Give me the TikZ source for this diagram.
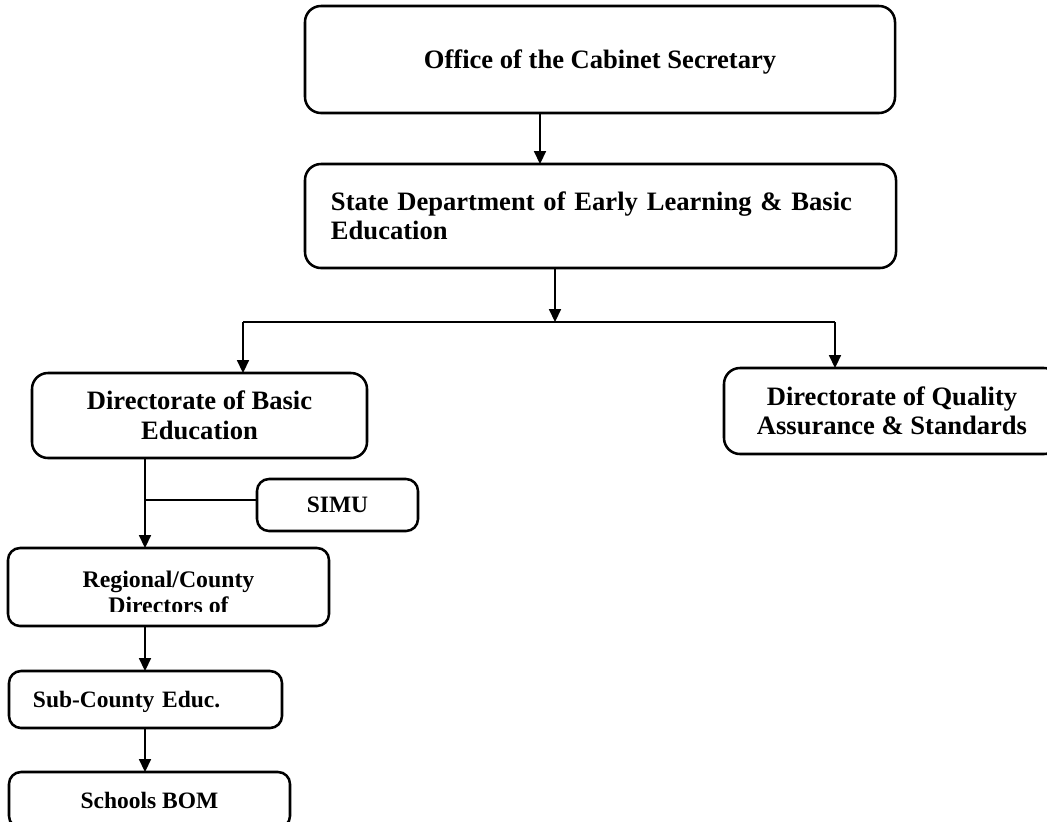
\documentclass[tikz,border=0pt]{standalone}
\usepackage{fontspec}
\setmainfont{Liberation Serif}
\usetikzlibrary{arrows.meta}

\begin{document}
\begin{tikzpicture}[x=0.25mm,y=-0.25mm,inner sep=0pt,outer sep=0pt,line width=0.9pt,
>={Triangle[length=3.2mm,width=3mm]},
orgbox/.style={draw,rectangle,rounded corners=4mm,line width=1.8pt,align=center,font=\bfseries\fontsize{18.9}{21}\selectfont},
lowbox/.style={orgbox,rounded corners=3mm,font=\bfseries\fontsize{16.7}{19}\selectfont},
oneline/.style={text depth=0pt}]
\useasboundingbox (0,0) rectangle (1047,821);
\fill[white] (0,0) rectangle (1047,821);
\clip (0,0) rectangle (1047,821);

\node[orgbox,oneline,minimum width=147.5mm,minimum height=26.75mm] (cabinet) at (600,59.5) {Office of the Cabinet Secretary};
\node[orgbox,align=left,text width=134.75mm,inner xsep=6.5mm,minimum height=26mm] (stateDept) at (600.5,216) {State Department of Early Learning \& Basic\\Education};
\node[orgbox,minimum width=83.75mm,minimum height=21.25mm] (basicEd) at (199.5,415.5) {Directorate of Basic\\Education};
\node[orgbox,minimum width=84mm,minimum height=21.5mm] (quality) at (892,411) {Directorate of Quality\\Assurance \& Standards};
\node[lowbox,oneline,minimum width=40.25mm,minimum height=13mm] (simu) at (337.5,505) {SIMU};
\node[lowbox,minimum width=80.25mm,minimum height=19.5mm] (regional) at (168.5,587) {};
\node[lowbox,oneline,align=left,text width=56.25mm,inner xsep=6mm,minimum height=14.25mm] (subCounty) at (145.5,699.5) {Sub-County Educ.};
\node[lowbox,oneline,minimum width=70.25mm,minimum height=14mm] (schools) at (149.5,800) {Schools BOM};

% second line is cut off in the box
\begin{scope}
\clip (regional.north west) rectangle ([yshift=-6mm]regional.east);
\node[anchor=base,font=\bfseries\fontsize{16.9}{19}\selectfont] (regionalTop) at (regional.center) {Regional/County};
\node[anchor=base,font=\bfseries\fontsize{16.9}{19}\selectfont] (regionalCut) at ([yshift=-6.5mm]regional.center) {Directors of};
\end{scope}

\coordinate (csDrop) at (540,0);
\coordinate (split) at (555,322);
\coordinate (leftDrop) at (243,322);
\coordinate (rightDrop) at (835,322);
\coordinate (spine) at (145,0);

\draw[->] (cabinet.south -| csDrop) -- (stateDept.north -| csDrop);
\draw[->] (stateDept.south -| split) -- (split);
\draw (leftDrop) -- (rightDrop);
\draw[->] (leftDrop) -- (leftDrop |- basicEd.north);
\draw[->] (rightDrop) -- (rightDrop |- quality.north);
\draw[->] (basicEd.south -| spine) -- (regional.north -| spine);
\draw ([yshift=1.25mm]spine |- simu.west) -- ([yshift=1.25mm]simu.west);
\draw[->] (regional.south -| spine) -- (subCounty.north -| spine);
\draw[->] (subCounty.south -| spine) -- (schools.north -| spine);
\end{tikzpicture}
\end{document}
